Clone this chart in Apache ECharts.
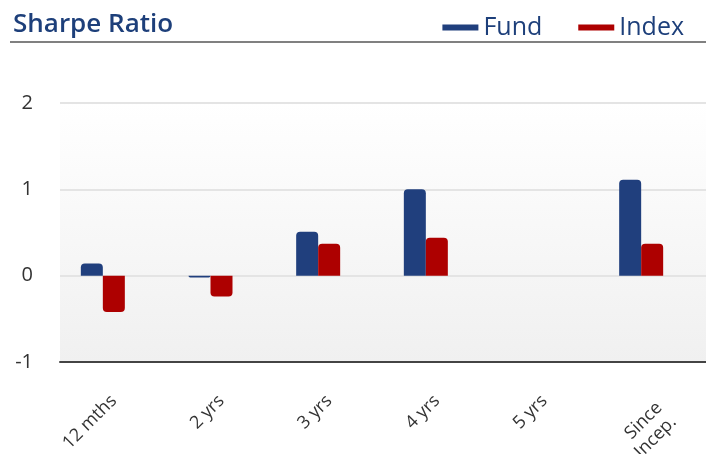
<!DOCTYPE html>
<html>
<head>
<meta charset="utf-8">
<script src="https://cdn.jsdelivr.net/npm/echarts@6/dist/echarts.min.js"></script>
<style>
  html, body { margin: 0; padding: 0; background: #fff; }
  #chart { width: 706px; height: 454px; }
</style>
</head>
<body>
<div id="chart"></div>
<script>
  var categories = ['12 mths', '2 yrs', '3 yrs', '4 yrs', '5 yrs', 'Since\nIncep.'];
  var fundValues = [0.14, -0.02, 0.51, 1.0, null, 1.11];
  var indexValues = [-0.42, -0.24, 0.37, 0.44, null, 0.37];
  var spareValues = [null, null, null, null, null, null];
  var yTicks = [-1, 0, 1, 2];

  // round the outer end of each bar, top for positive, bottom for negative
  function toBars(values) {
    return values.map(function (v) {
      if (v === null) return null;
      return {
        value: v,
        itemStyle: { borderRadius: v >= 0 ? [4, 4, 0, 0] : [0, 0, 4, 4] }
      };
    });
  }

  // two-line labels hang from their first line
  var categoryData = categories.map(function (c) {
    if (c.indexOf('\n') < 0) return c;
    return { value: c, textStyle: { verticalAlign: 'top', lineHeight: 20 } };
  });

  var myChart = echarts.init(document.getElementById('chart'));
  var option = {
    backgroundColor: '#fff',
    animation: false,
    title: {
      text: 'Sharpe Ratio',
      left: 8,
      top: 7,
      textStyle: {
        color: '#1d3f7a',
        fontSize: 26,
        fontWeight: 600,
        fontFamily: 'Open Sans'
      }
    },
    graphic: [{
      type: 'line',
      shape: { x1: 10, y1: 42, x2: 706, y2: 42 },
      style: { stroke: '#808080', lineWidth: 2 }
    }],
    legend: {
      data: ['Fund', 'Index'],
      right: 17,
      top: 10,
      icon: 'rect',
      itemWidth: 36,
      itemHeight: 6,
      itemGap: 36,
      textStyle: {
        color: '#1d3f7a',
        fontSize: 25,
        fontFamily: 'Open Sans'
      }
    },
    grid: {
      left: 60,
      right: 0,
      top: 103,
      bottom: 92,
      containLabel: false,
      outerBoundsMode: 'none',
      show: true,
      borderWidth: 0,
      backgroundColor: {
        type: 'linear', x: 0, y: 0, x2: 0, y2: 1,
        colorStops: [
          { offset: 0, color: '#ffffff' },
          { offset: 1, color: '#f0f0f0' }
        ]
      }
    },
    xAxis: {
      type: 'category',
      data: categoryData,
      axisTick: { show: false },
      axisLine: { onZero: false, lineStyle: { color: '#444', width: 2 } },
      axisLabel: {
        rotate: 45,
        margin: 36,
        interval: 0,
        color: '#333',
        fontSize: 18,
        lineHeight: 22,
        fontFamily: 'Open Sans'
      }
    },
    yAxis: {
      type: 'value',
      min: yTicks[0],
      max: yTicks[yTicks.length - 1],
      interval: 1,
      axisLine: { show: false },
      axisTick: { show: false },
      axisLabel: {
        color: '#333',
        fontSize: 20,
        margin: 27,
        fontFamily: 'Open Sans'
      },
      splitLine: { lineStyle: { color: '#e4e4e4', width: 2 } }
    },
    series: [
      {
        name: 'Fund',
        type: 'bar',
        barWidth: 22,
        barGap: '0%',
        data: toBars(fundValues),
        itemStyle: { color: '#203f7d' }
      },
      {
        name: 'Index',
        type: 'bar',
        barWidth: 22,
        barGap: '0%',
        data: toBars(indexValues),
        itemStyle: { color: '#ad0000' }
      },
      {
        name: 'Other',
        type: 'bar',
        barWidth: 22,
        barGap: '0%',
        data: spareValues
      }
    ]
  };
  myChart.setOption(option);
</script>
</body>
</html>
